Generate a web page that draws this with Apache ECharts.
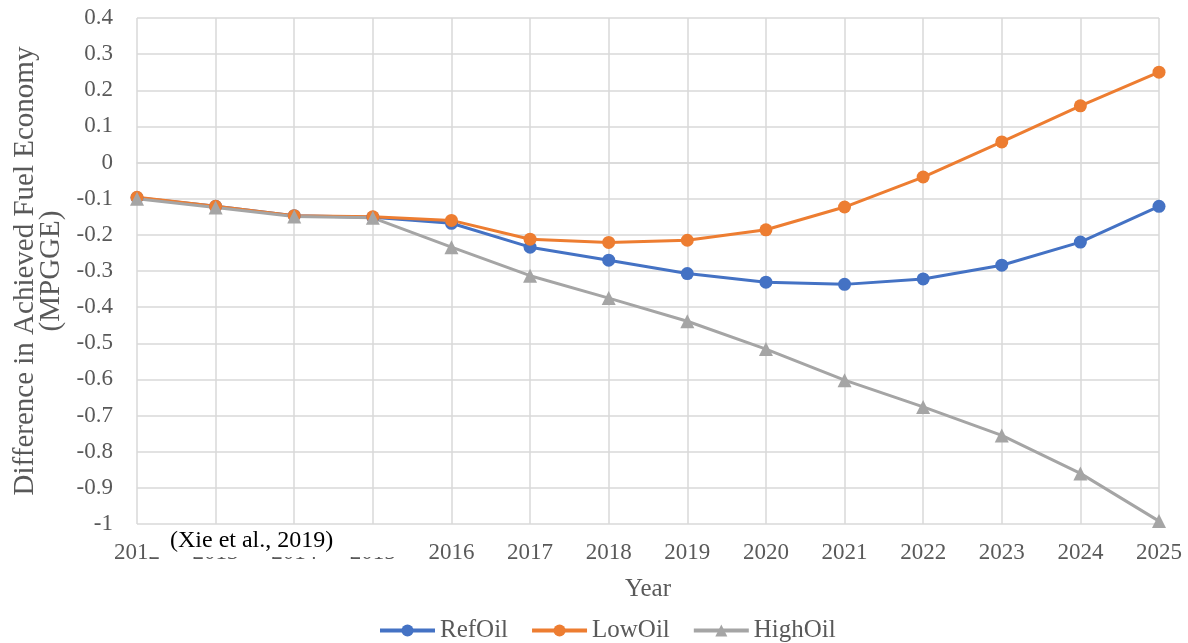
<!DOCTYPE html>
<html>
<head>
<meta charset="utf-8">
<script src="https://cdn.jsdelivr.net/npm/echarts@6/dist/echarts.min.js"></script>
<style>
  html, body { margin: 0; padding: 0; background: #fff; }
  #chart { width: 1188px; height: 643px; }
</style>
</head>
<body>
<div id="chart"></div>
<script>
// Model years on the x axis
const years = ['2012', '2013', '2014', '2015', '2016', '2017', '2018', '2019',
               '2020', '2021', '2022', '2023', '2024', '2025'];

// Difference in achieved fuel economy (MPGGE) per oil-price scenario
const refOil  = [-0.097, -0.121, -0.147, -0.151, -0.168, -0.234, -0.270, -0.307,
                 -0.331, -0.337, -0.322, -0.284, -0.220, -0.121];
const lowOil  = [-0.096, -0.121, -0.147, -0.150, -0.160, -0.212, -0.221, -0.215,
                 -0.186, -0.123, -0.040, 0.057, 0.157, 0.250];
const highOil = [-0.100, -0.124, -0.149, -0.153, -0.234, -0.313, -0.375, -0.439,
                 -0.516, -0.602, -0.676, -0.755, -0.860, -0.992];

const seriesNames = ['RefOil', 'LowOil', 'HighOil'];
const sourceNote = '(Xie et al., 2019)';

const serif = '"Liberation Serif", "DejaVu Serif", serif';
const textGray = '#595959';
const gridGray = '#D9D9D9';

function lineSeries(name, data, color, symbol, size) {
  return {
    name: name,
    type: 'line',
    data: data,
    symbol: symbol,
    symbolSize: size,
    lineStyle: { color: color, width: 3 },
    itemStyle: { color: color },
    emphasis: { disabled: true },
    animation: false
  };
}

const chart = echarts.init(document.getElementById('chart'), null, { renderer: 'canvas' });
chart.setOption({
  backgroundColor: '#fff',
  animation: false,
  grid: { left: 137, right: 29, top: 18, bottom: 119, containLabel: false },
  legend: {
    data: seriesNames,
    left: 373,
    top: 613,
    itemWidth: 55,
    itemHeight: 15,
    itemGap: 22,
    lineStyle: { width: 4 },
    textStyle: { fontFamily: serif, fontSize: 25, color: textGray }
  },
  xAxis: {
    type: 'category',
    data: years,
    boundaryGap: false,
    name: 'Year',
    nameLocation: 'middle',
    nameGap: 53,
    nameTextStyle: { fontFamily: serif, fontSize: 25, color: textGray },
    axisLine: { lineStyle: { color: gridGray, width: 1.5 } },
    axisTick: { show: false },
    axisLabel: { fontFamily: serif, fontSize: 23, color: textGray, margin: 17, interval: 0 },
    splitLine: { show: true, interval: 0, lineStyle: { color: gridGray, width: 1.5 } }
  },
  yAxis: {
    type: 'value',
    min: -1,
    max: 0.4,
    interval: 0.1,
    name: 'Difference in Achieved Fuel Economy\n(MPGGE)',
    nameLocation: 'middle',
    nameRotate: 90,
    nameGap: 73,
    nameTextStyle: { fontFamily: serif, fontSize: 29, color: textGray, lineHeight: 26 },
    axisLine: { show: false },
    axisTick: { show: false },
    axisLabel: { fontFamily: serif, fontSize: 23, color: textGray, margin: 24 },
    splitLine: { lineStyle: { color: gridGray, width: 1.5 } }
  },
  series: [
    lineSeries(seriesNames[0], refOil, '#4472C4', 'circle', 13),
    lineSeries(seriesNames[1], lowOil, '#ED7D31', 'circle', 13),
    lineSeries(seriesNames[2], highOil, '#A5A5A5', 'triangle', 14)
  ],
  graphic: [
    {
      type: 'rect',
      z: 100,
      zlevel: 1,
      shape: { x: 150, y: 525, width: 262, height: 32 },
      style: { fill: '#fff' }
    },
    {
      type: 'text',
      z: 101,
      zlevel: 1,
      x: 170, y: 541,
      style: { text: sourceNote, fontFamily: serif, fontSize: 24, fill: '#000', verticalAlign: 'middle' }
    }
  ]
});
</script>
</body>
</html>
